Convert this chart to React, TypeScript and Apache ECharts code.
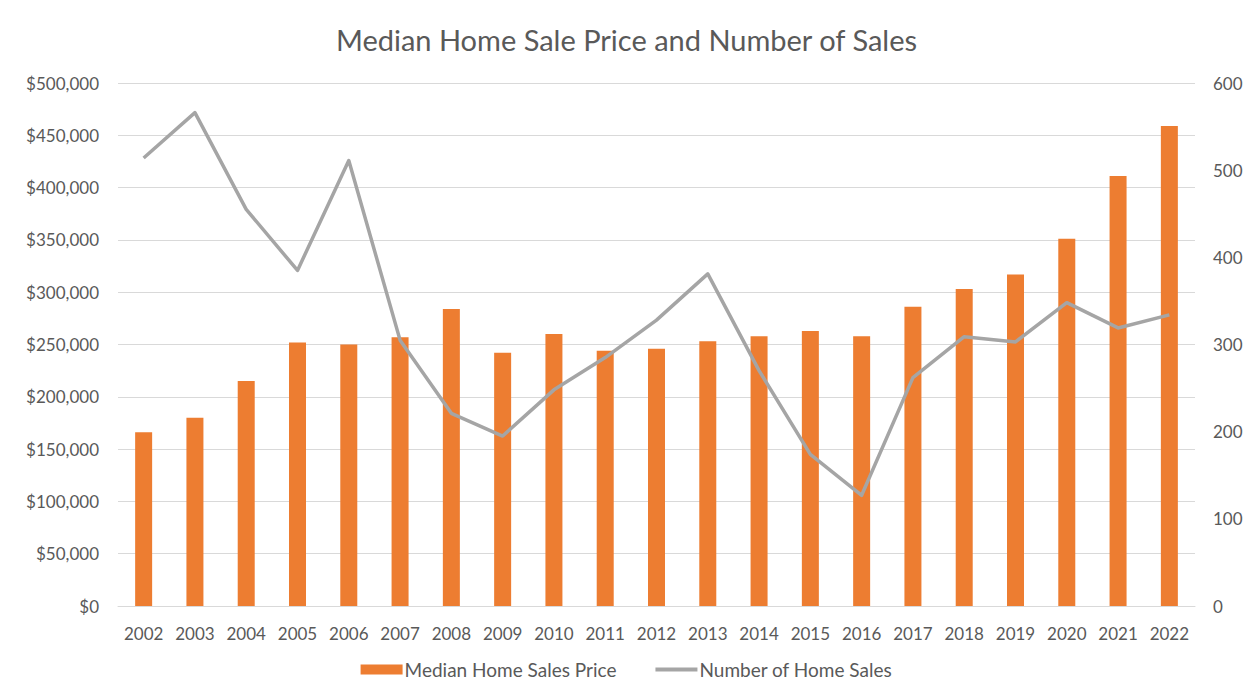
import React, { useEffect, useRef } from "react";
import * as echarts from "echarts";

const years = ["2002","2003","2004","2005","2006","2007","2008","2009","2010","2011","2012","2013","2014","2015","2016","2017","2018","2019","2020","2021","2022"];
const medianPrice = [166000,180000,215000,252000,250000,257000,284000,242000,260000,244000,246000,253000,258000,263000,258000,286000,303000,317000,351000,411000,459000];
const homeSales = [514,566,455,385,511,305,221,195,248,285,328,381,270,174,127,262,309,303,348,319,334];

const FONT = "Lato, 'Open Sans', sans-serif";
const TXT = "#595959";

export default function App() {
  const ref = useRef<HTMLDivElement>(null);
  useEffect(() => {
    if (!ref.current) return;
    const chart = echarts.init(ref.current, null, { renderer: "svg" });
    chart.setOption({
      animation: false,
      backgroundColor: "#ffffff",
      textStyle: { fontFamily: FONT },
      title: {
        text: "Median Home Sale Price and Number of Sales",
        left: "center",
        top: 20,
        textStyle: { fontFamily: FONT, fontSize: 29, fontWeight: "normal", color: TXT },
      },
      legend: {
        bottom: 14,
        left: "center",
        itemGap: 37,
        itemWidth: 42,
        itemHeight: 10,
        textStyle: { fontFamily: FONT, fontSize: 19, color: TXT, padding: [0, 0, 0, -3] },
        data: [
          { name: "Median Home Sales Price", icon: "rect" },
          {
            name: "Number of Home Sales",
            itemStyle: { color: "rgba(0,0,0,0)", borderWidth: 0, opacity: 0 },
            lineStyle: { color: "#A5A5A5", width: 4 },
          },
        ],
      },
      grid: { left: 118, right: 58, top: 83, bottom: 92 },
      xAxis: {
        type: "category",
        data: years,
        axisLine: { show: true, lineStyle: { color: "#d9d9d9", width: 1 } },
        axisTick: { show: false },
        axisLabel: { color: TXT, fontSize: 17, fontFamily: FONT, margin: 19 },
      },
      yAxis: [
        {
          type: "value",
          min: 0,
          max: 500000,
          interval: 50000,
          axisLine: { show: false },
          axisTick: { show: false },
          splitLine: { lineStyle: { color: "#d9d9d9", width: 1 } },
          axisLabel: {
            color: TXT,
            fontSize: 17,
            fontFamily: FONT,
            margin: 19,
            formatter: (v: number) => "$" + v.toLocaleString("en-US"),
          },
        },
        {
          type: "value",
          min: 0,
          max: 600,
          interval: 100,
          position: "right",
          axisLine: { show: false },
          axisTick: { show: false },
          splitLine: { show: false },
          axisLabel: { color: TXT, fontSize: 17, fontFamily: FONT, margin: 18 },
        },
      ],
      series: [
        {
          name: "Median Home Sales Price",
          type: "bar",
          data: medianPrice,
          barWidth: 17,
          itemStyle: { color: "#ED7D31" },
          yAxisIndex: 0,
        },
        {
          name: "Number of Home Sales",
          type: "line",
          data: homeSales,
          yAxisIndex: 1,
          symbol: "none",
          lineStyle: { color: "#A5A5A5", width: 3.5, join: "round" },
          itemStyle: { color: "#A5A5A5" },
        },
      ],
    });
    return () => chart.dispose();
  }, []);
  return (
    <div
      ref={ref}
      style={{ position: "fixed", left: 0, top: 0, width: 1253, height: 698, background: "#fff" }}
    />
  );
}
